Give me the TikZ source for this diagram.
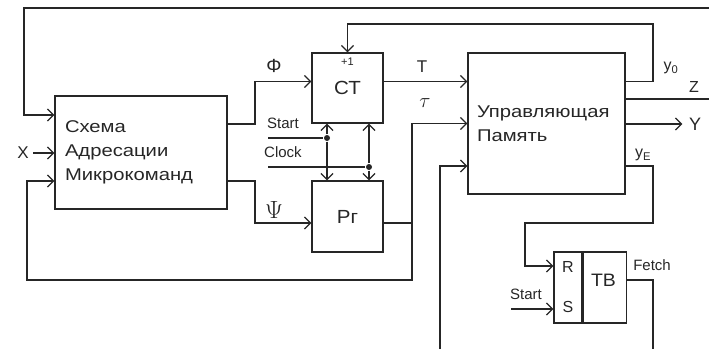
\documentclass[tikz,border=0pt]{standalone}
\usepackage{fontspec}
\setmainfont{Liberation Sans}
\newfontfamily\widefont{Liberation Sans}[FakeStretch=1.19]
\newfontfamily\unitfont{Liberation Sans}[FakeStretch=1.08]
\usetikzlibrary{arrows.meta, positioning, calc}
\colorlet{linecolor}{black!85}

\begin{document}
\begin{tikzpicture}[
    x=1pt, y=-1pt,
    color=linecolor, line width=1.3pt,
    blok/.style={rectangle, draw, inner sep=0pt},
    boxtxt/.style={font=\widefont\fontsize{17}{24}\selectfont, align=left},
    unittxt/.style={font=\unitfont\fontsize{19}{19}\selectfont},
    bigtxt/.style={inner sep=0pt, font=\fontsize{17}{17}\selectfont},
    smalltxt/.style={inner sep=0pt, font=\fontsize{15}{15}\selectfont},
    arr/.style={-{Straight Barb[length=6pt, width=12pt]}},
    dot/.style={circle, fill=linecolor, inner sep=0pt, minimum size=6pt}
]
\useasboundingbox (0,0) rectangle (709,349);

% blocks
\node[blok, boxtxt, minimum height=113pt, text width=152pt, inner xsep=10pt] (sam) at (141,152.5) {Схема\\Адресации\\Микрокоманд};
\node[blok, unittxt, minimum width=71pt, minimum height=70pt] (ct) at (347.5,88) {СТ};
\node[blok, unittxt, minimum width=71pt, minimum height=71pt] (rg) at (347.5,216.5) {Рг};
\node[blok, boxtxt, minimum height=141pt, text width=139pt, inner xsep=9pt] (um) at (546.5,123.5) {Управляющая\\Память};
\node[blok, minimum width=28pt, minimum height=71pt, align=center, font=\fontsize{16}{40}\selectfont] (rs) at (568,287.5) {R\\S};
\node[blok, minimum width=43pt, minimum height=71pt, right=0pt of rs] (tb) {};
\node[unittxt, inner sep=0pt, font=\unitfont\fontsize{18}{18}\selectfont] (tbtxt) at (603.5,280) {ТВ};
\node[inner sep=0pt, font=\fontsize{11}{11}\selectfont] (plus) at ($(ct.north)+(0,9.5)$) {+1};

% labels
\node[bigtxt] (xin) at (23,153) {X};
\node[bigtxt, font=\fontsize{19}{19}\selectfont] (phi) at (274,66) {Φ};
\node[inner sep=0pt, font=\fontsize{24}{24}\selectfont] (psi) at (274,210) {$\Psi$};
\node[bigtxt] (tl) at (422,67) {T};
\node[inner sep=0pt, font=\fontsize{22}{22}\selectfont] (tau) at (425,103) {$\tau$};
\node[smalltxt, font=\fontsize{16}{16}\selectfont] (y0) at (671,68) {y\textsubscript{0}};
\node[bigtxt, font=\fontsize{16}{16}\selectfont] (zl) at (694,87) {Z};
\node[bigtxt, font=\fontsize{18}{18}\selectfont] (yout) at (695,124) {Y};
\node[smalltxt, font=\fontsize{16}{16}\selectfont] (ye) at (643,155) {y\textsubscript{E}};
\node[smalltxt] (start1) at (283,123) {Start};
\node[smalltxt] (clock) at (283,152) {Clock};
\node[smalltxt] (start2) at (526,294) {Start};
\node[smalltxt] (fetch) at (652,265) {Fetch};

% free ends
\coordinate (topR) at (709,8);
\coordinate (zR) at (709,99);
\coordinate (botIn) at (440,349);
\coordinate (fetchB) at (653,349);
\coordinate (stA) at (268,138);
\coordinate (clA) at (268,167);
\coordinate (stS) at (511,309);

% connections
\draw[arr] (topR) -| (24,115) -- (sam.west |- 0,115);
\draw[arr, shorten <=4pt] (xin) -- (sam.west |- xin);
\draw[arr] ($(sam.east)+(0,-28.5)$) -| (255,81.5) -- (ct.west |- 0,81.5);
\draw[arr] ($(sam.east)+(0,28.5)$) -| (255,223) -- (rg.west |- 0,223);
\draw[arr] (ct.east |- 0,81.5) -- (um.west |- 0,81.5);
\draw[arr] (um.east |- 0,81.5) -| (653,24) -| (ct.north);
\draw (um.east |- zR) -- (zR);
\draw[arr, shorten >=6pt] (um.east |- yout) -- (yout);
\draw[arr] (um.east |- 0,166) -| (653,223) -| (525,266) -- (rs.west |- 0,266);
\draw[arr] (stS) -- (rs.west |- stS);
\draw (tb.east |- 0,280) -| (fetchB);
\draw[arr] (botIn) |- (um.west |- 0,166);
\draw[arr] ($(rg.east)+(0,6.5)$) -| (412,123.5) -- (um.west);
\draw[arr] (412,223) |- (27,280) |- (sam.west |- 0,181);

% start / clock
\node[dot] (d1) at (327,138) {};
\node[dot] (d2) at (369,167) {};
\draw (stA) -- (d1);
\draw (clA) -- (d2);
\draw[arr] (d1) -- (d1 |- ct.south);
\draw[arr] (d1) -- (d1 |- rg.north);
\draw[arr] (d2) -- (d2 |- ct.south);
\draw[arr] (d2) -- (d2 |- rg.north);

\end{tikzpicture}
\end{document}
